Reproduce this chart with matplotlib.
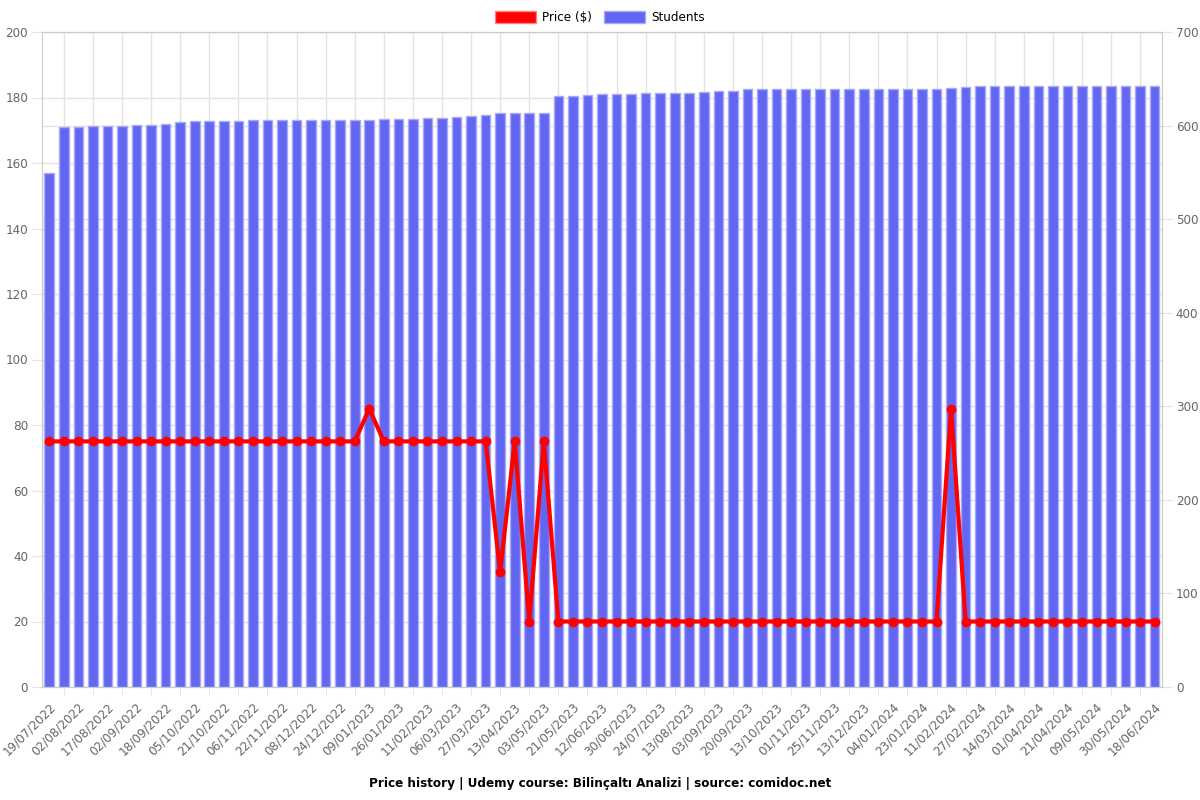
import matplotlib
matplotlib.use("Agg")
import matplotlib.pyplot as plt
import matplotlib.transforms as mtransforms
from matplotlib.patches import Patch
import numpy as np

# dates shown under every second bar
tick_labels = ["19/07/2022", "02/08/2022", "17/08/2022", "02/09/2022", "18/09/2022",
               "05/10/2022", "21/10/2022", "06/11/2022", "22/11/2022", "08/12/2022",
               "24/12/2022", "09/01/2023", "26/01/2023", "11/02/2023", "06/03/2023",
               "27/03/2023", "13/04/2023", "03/05/2023", "21/05/2023", "12/06/2023",
               "30/06/2023", "24/07/2023", "13/08/2023", "03/09/2023", "20/09/2023",
               "13/10/2023", "01/11/2023", "25/11/2023", "13/12/2023", "04/01/2024",
               "23/01/2024", "11/02/2024", "27/02/2024", "14/03/2024", "01/04/2024",
               "21/04/2024", "09/05/2024", "30/05/2024", "18/06/2024"]

students = [549, 598, 598, 600, 600, 600, 601, 601, 602, 604,
            605, 605, 605, 605, 606, 606, 606, 606, 606, 606,
            606, 606, 606, 607, 607, 607, 608, 608, 609, 610,
            611, 613, 613, 613, 613, 632, 632, 633, 634, 634,
            634, 635, 635, 635, 635, 636, 637, 637, 639, 639,
            639, 639, 639, 639, 639, 639, 639, 639, 639, 639,
            639, 639, 640, 641, 642, 642, 642, 642, 642, 642,
            642, 642, 642, 642, 642, 642, 642]

price = [75, 75, 75, 75, 75, 75, 75, 75, 75, 75,
         75, 75, 75, 75, 75, 75, 75, 75, 75, 75,
         75, 75, 85, 75, 75, 75, 75, 75, 75, 75,
         75, 35, 75, 20, 75, 20, 20, 20, 20, 20,
         20, 20, 20, 20, 20, 20, 20, 20, 20, 20,
         20, 20, 20, 20, 20, 20, 20, 20, 20, 20,
         20, 20, 85, 20, 20, 20, 20, 20, 20, 20,
         20, 20, 20, 20, 20, 20, 20]

x = np.arange(len(students))
grid_col = "#e3e3e3"
txt_col = "#666666"
fs = 8.64  # 12px

fig = plt.figure(figsize=(12, 8), dpi=100)
ax_price = fig.add_axes([0.035, 0.14125, 0.9333, 0.81875])
ax_stud = ax_price.twinx()
ax_line = ax_price.twinx()

# left axis: price scale, grid only
ax_price.set_ylim(0, 200)
ax_price.set_yticks(np.arange(0, 201, 20))
ax_price.set_xlim(-0.5, len(x) - 0.5)
ax_price.set_xticks(x[::2])
ax_price.set_xticklabels(tick_labels, rotation=45, ha="right", va="center",
                         rotation_mode="anchor")
ax_price.set_xticks(x[1::2], minor=True)
ax_price.tick_params(axis="x", which="major", length=0, pad=13, labelsize=fs, labelcolor=txt_col)
ax_price.tick_params(axis="x", which="minor", length=6, color=grid_col)
ax_price.tick_params(axis="y", length=7, color=grid_col, labelsize=fs, labelcolor=txt_col, pad=3)
ax_price.grid(axis="x", which="minor", color=grid_col, linewidth=1)
ax_price.grid(axis="y", color=grid_col, linewidth=1)
shift = mtransforms.ScaledTranslation(4 / 100, 0, fig.dpi_scale_trans)
for lab in ax_price.get_xticklabels():
    lab.set_transform(lab.get_transform() + shift)

# right axis: students bars
ax_stud.bar(x, students, width=0.66, color="#6366f1", edgecolor="#a9abf8", linewidth=1, zorder=2)
ax_stud.set_ylim(0, 700)
ax_stud.set_yticks(np.arange(0, 701, 100))
ax_stud.tick_params(axis="y", length=7, color=grid_col, labelsize=fs, labelcolor=txt_col, pad=3)
ax_stud.grid(axis="y", color=grid_col, linewidth=1)
ax_stud.set_axisbelow(True)

# price line on top
ax_line.plot(x, price, color="red", linewidth=3, marker="o", markersize=6,
             solid_joinstyle="miter", zorder=3)
ax_line.set_ylim(0, 200)
ax_line.axis("off")

for a in (ax_price, ax_stud):
    for s in a.spines.values():
        s.set_color("#cccccc")

fig.legend(handles=[Patch(facecolor="red", edgecolor="#ff8080", label="Price ($)"),
                    Patch(facecolor="#6366f1", edgecolor="#a9abf8", label="Students")],
           loc="upper center", bbox_to_anchor=(0.5, 1.0), ncol=2, frameon=False,
           fontsize=fs, handlelength=3.4, handleheight=1.2, handletextpad=0.5,
           columnspacing=1.0)

fig.text(0.5, 0.021, "Price history | Udemy course: Bilinçaltı Analizi | source: comidoc.net",
         ha="center", va="center", fontsize=fs, fontweight="bold")

fig.savefig("out.png", dpi=100)
